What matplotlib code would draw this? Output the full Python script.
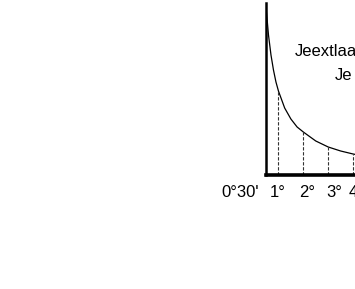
import matplotlib
matplotlib.use("Agg")
import matplotlib.pyplot as plt
import matplotlib.transforms as mtransforms

plt.rcParams['font.family'] = ['Liberation Sans', 'DejaVu Sans']

# Curve (x in degrees, height in arbitrary units)
curve_x = [0.5, 0.6, 0.7, 0.8, 0.9, 1.0, 1.25, 1.5, 1.75, 2.0, 2.5, 3.0, 3.5, 4.0, 4.1]
curve_y = [168, 140, 120, 105, 93, 84, 67, 56, 48, 43, 34, 28, 24, 21, 20.5]

# Dashed ordinates
ord_x = [1, 2, 3, 4]
ord_y = [84, 43, 28, 21]

tick_pos = [0.5, 1, 2, 3, 4]
tick_labels = ["0°30'", "1°", "2°", "3°", "4°"]

label_line1 = "Jeextlaa"
label_line2 = "Je"

W, H = 355, 289
fig = plt.figure(figsize=(W / 100, H / 100), dpi=100)
ax = fig.add_axes([266 / W, 114 / H, 1 - 266 / W + 0.02, 172 / H])
ax.set_xlim(0.5, 0.5 + (W + 7 - 266) / 24.86)
ax.set_ylim(0, 172)

ax.plot(curve_x, curve_y, color='black', lw=0.9)
ax.vlines(ord_x, 0, ord_y, colors='#333333', lw=0.8, linestyles=(0, (3, 1.5)))

for s in ['top', 'right']:
    ax.spines[s].set_visible(False)
ax.spines['left'].set_linewidth(1.8)
ax.spines['bottom'].set_linewidth(2.6)
ax.set_yticks([])
ax.set_xticks(tick_pos)
ax.set_xticklabels(tick_labels, fontsize=12)
ax.tick_params(axis='x', length=0, pad=7)

offsets = [-26, -1, 4, 6, 3]
for lab, dx in zip(ax.get_xticklabels(), offsets):
    lab.set_transform(lab.get_transform() + mtransforms.ScaledTranslation(dx / 100, 0, fig.dpi_scale_trans))

fig.text(295 / W, 1 - 52 / H, label_line1, fontsize=12, va='center', ha='left')
fig.text(335 / W, 1 - 75 / H, label_line2, fontsize=12, va='center', ha='left')

fig.savefig("out.png", dpi=100)
